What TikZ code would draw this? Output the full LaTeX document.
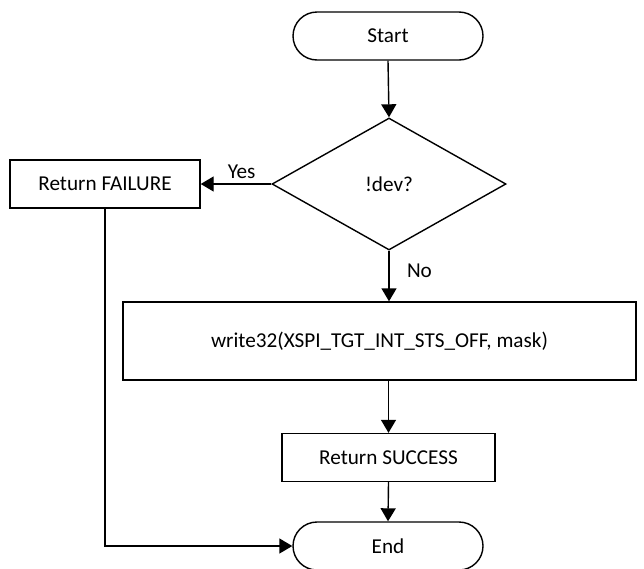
\documentclass[tikz,border=0pt]{standalone}
\usepackage{fontspec}
\setmainfont{Carlito}
\usetikzlibrary{shapes.geometric,arrows.meta}
\begin{document}
\begin{tikzpicture}[x=1pt,y=-1pt,
  every node/.style={font=\fontsize{21.2}{25}\selectfont},
  base/.style={draw=black,line width=1.4pt,inner sep=0pt},
  terminal/.style={base,rectangle,rounded corners=24pt,minimum width=190pt,minimum height=48pt},
  process/.style={base,rectangle},
  decision/.style={base,diamond,minimum width=234pt,minimum height=132pt},
  flow/.style={line width=1.4pt,-{Triangle[length=13pt,width=15pt]}}]
\useasboundingbox (0,0) rectangle (644,568);

\node[terminal] (start) at (388,36) {Start};
\node[decision] (dev) at (389,184) {!dev?};
\node[process,minimum width=190pt,minimum height=48pt] (fail) at (105,184) {Return FAILURE};
\node[process,minimum width=513pt,minimum height=78pt] (write) at (379.5,341) {write32(XSPI\_TGT\_INT\_STS\_OFF, mask)};
\node[process,minimum width=213pt,minimum height=48pt] (ok) at (388.5,457.5) {Return SUCCESS};
\node[terminal] (end) at (388,546) {End};

\draw[flow] (start.south) -- (dev.north);
\draw[flow] (dev.west) -- (fail.east) node[pos=0.42,above=1pt] (yes) {Yes};
\draw[flow] (dev.south) -- (dev.south |- write.north) node[pos=0.4,right=14pt] (no) {No};
\draw[flow] (write.south -| ok.north) -- (ok.north);
\draw[flow] (ok.south) -- (end.north);
\draw[flow] (fail.south) |- (end.west);
\end{tikzpicture}
\end{document}
